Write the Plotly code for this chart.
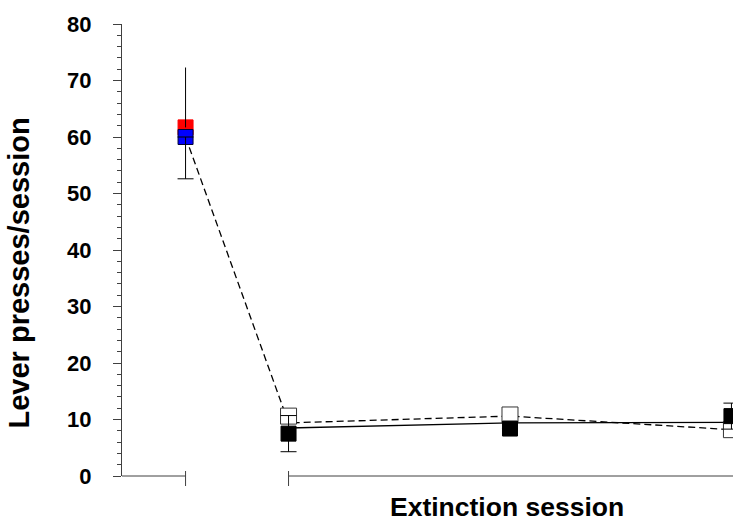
import plotly.graph_objects as go

# ---- data ----
session_x = [0.535, 1, 2, 3]          # baseline, extinction sessions 1-3
baseline_red = [61.7]
baseline_red_err_plus = [10.6]
baseline_blue = [60.0]
baseline_blue_err_minus = [7.4]
ext_open = [10.6, 10.8, 8.2]
ext_filled = [7.5, 8.4, 10.6]
ext_filled_err = [3.2, 0.0, 2.3]
dashed_line = [60.0, 9.4, 10.6, 8.2]
solid_line = [8.5, 9.4, 9.5]
y_ticks = [0, 10, 20, 30, 40, 50, 60, 70, 80]
x_title = "Extinction session"
y_title = "Lever presses/session"

W, H = 733, 524
ML, MR, MT, MB = 122, 0, 24, 48
x_range = [0.248, 3.007]
AX = "#404040"
FONT = "Liberation Sans, Arial, sans-serif"

fig = go.Figure()

# lines
fig.add_trace(go.Scatter(x=session_x, y=dashed_line, mode="lines",
                         line=dict(color="black", width=1.3, dash="7px,4px"),
                         hoverinfo="skip", showlegend=False))
fig.add_trace(go.Scatter(x=session_x[1:], y=solid_line, mode="lines",
                         line=dict(color="black", width=1.3),
                         hoverinfo="skip", showlegend=False))

# markers
fig.add_trace(go.Scatter(x=session_x[1:], y=ext_open, mode="markers",
                         marker=dict(symbol="square", size=16, color="white",
                                     line=dict(color="#333", width=1)),
                         showlegend=False))
fig.add_trace(go.Scatter(x=session_x[1:], y=ext_filled, mode="markers",
                         marker=dict(symbol="square", size=15, color="black",
                                     line=dict(color="black", width=1)),
                         showlegend=False))
fig.add_trace(go.Scatter(x=session_x[:1], y=baseline_red, mode="markers",
                         marker=dict(symbol="square", size=15, color="#ff0000",
                                     line=dict(color="#ff0000", width=1)),
                         showlegend=False))
fig.add_trace(go.Scatter(x=session_x[:1], y=baseline_blue, mode="markers",
                         marker=dict(symbol="square", size=15, color="#0000ff",
                                     line=dict(color="#000033", width=1)),
                         showlegend=False))

# error bars (drawn on top)
fig.add_trace(go.Scatter(x=session_x[:1], y=baseline_red, mode="markers",
                         marker=dict(size=1, opacity=0),
                         error_y=dict(type="data", symmetric=False,
                                      array=baseline_red_err_plus, arrayminus=[0],
                                      color="black", thickness=1, width=0),
                         showlegend=False, hoverinfo="skip"))
fig.add_trace(go.Scatter(x=session_x[:1], y=baseline_blue, mode="markers",
                         marker=dict(size=1, opacity=0),
                         error_y=dict(type="data", symmetric=False,
                                      array=[0], arrayminus=baseline_blue_err_minus,
                                      color="black", thickness=1, width=8),
                         showlegend=False, hoverinfo="skip"))
fig.add_trace(go.Scatter(x=session_x[1:], y=ext_filled, mode="markers",
                         marker=dict(size=1, opacity=0),
                         error_y=dict(type="data", array=ext_filled_err,
                                      color="black", thickness=1, width=8),
                         showlegend=False, hoverinfo="skip"))

ph = H - MT - MB
# broken x axis drawn as shapes
shapes = [
    dict(type="line", xref="x", yref="paper", x0=x_range[0], x1=session_x[0],
         y0=0, y1=0, line=dict(color=AX, width=1)),
    dict(type="line", xref="x", yref="paper", x0=session_x[0], x1=session_x[0],
         y0=5 / ph, y1=-10 / ph, line=dict(color=AX, width=1)),
    dict(type="line", xref="x", yref="paper", x0=session_x[1], x1=x_range[1],
         y0=0, y1=0, line=dict(color=AX, width=1)),
    dict(type="line", xref="x", yref="paper", x0=session_x[1], x1=session_x[1],
         y0=5 / ph, y1=-10 / ph, line=dict(color=AX, width=1)),
]

pw = W - ML - MR
annotations = [
    dict(text=x_title, xref="paper", yref="paper",
         x=(506.5 - ML) / pw, y=(H - MB - 507) / ph,
         xanchor="center", yanchor="middle", showarrow=False, borderpad=0,
         font=dict(family=FONT, size=26.5, color="black", weight="bold")),
    dict(text=y_title, xref="paper", yref="paper",
         x=(18 - ML) / pw, y=(H - MB - 273.5) / ph, textangle=-90,
         xanchor="center", yanchor="middle", showarrow=False,
         font=dict(family=FONT, size=29, color="black", weight="bold")),
]

fig.update_layout(
    width=W, height=H,
    margin=dict(l=ML, r=MR, t=MT, b=MB, pad=0),
    paper_bgcolor="white", plot_bgcolor="white",
    xaxis=dict(range=x_range, visible=False, showgrid=False, zeroline=False),
    yaxis=dict(range=[0, 80], tickvals=y_ticks, ticktext=[str(v) for v in y_ticks],
               ticks="outside", ticklen=8, tickwidth=1, tickcolor=AX,
               showline=True, linecolor=AX, linewidth=1,
               showgrid=False, zeroline=False,
               ticklabelstandoff=17,
               tickfont=dict(family=FONT, size=22, color="black", weight="bold"),
               minor=dict(dtick=2, ticks="outside", ticklen=4, tickwidth=1,
                          tickcolor=AX, showgrid=False)),
    shapes=shapes, annotations=annotations,
    showlegend=False,
)

fig.write_html("out.html")
